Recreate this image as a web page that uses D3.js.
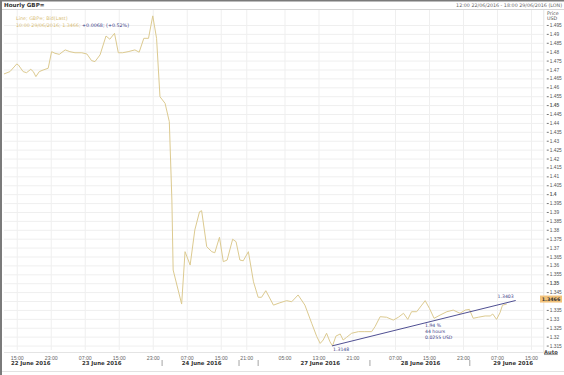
<!DOCTYPE html>
<html>
<head>
<meta charset="utf-8">
<script src="https://cdn.jsdelivr.net/npm/d3@7"></script>
<style>
body { margin: 0; background: #fff; }
svg { display: block; font-family: "DejaVu Sans", Verdana, sans-serif; }
.grid line { stroke: #efefef; stroke-width: 1; }
.grid path { display: none; }
.yaxis path { display: none; }
.yaxis line { stroke: #777; }
.yaxis text { fill: #555; font-size: 4.8px; }
.xaxis path, .xaxis line { display: none; }
.xaxis text { fill: #666; font-size: 5.2px; }
</style>
</head>
<body>
<div id="chart"></div>
<script>
// trading-hour index (0 = 22/06 12:00, weekend collapsed) and GBP= bid
const hours = [0, 1.4, 3.0, 3.4, 4.5, 5.3, 6.3, 6.9, 7.5, 8.3, 9.2, 10.4, 11.2, 12.0, 13.0, 14.4, 15.5, 16.7, 18.3, 19.5,
  20.6, 21.4, 22.6, 24.0, 24.9, 26.0, 26.9, 27.9, 29.2, 30.8, 31.8, 32.9, 34.0, 35.0, 35.9, 36.7, 37.9, 38.9, 39.5, 39.8,
  41.8, 42.6, 43.8, 44.9, 46.0, 46.5, 47.7, 48.9, 49.6, 50.7, 51.6, 52.5, 53.8, 54.6, 55.5, 56.3, 57.5, 58.7, 59.8, 60.6,
  61.6, 63.4, 64.9, 66.5, 67.7, 69.2, 70.8, 72.4, 73.6, 74.4, 75.1, 75.9, 76.7, 77.3, 78.1, 79.1, 79.8, 80.6, 81.8, 83.4,
  84.9, 86.5, 87.3, 88.5, 90.0, 91.6, 92.8, 94.0, 95.0, 95.9, 97.1, 98.3, 99.1, 100.1, 101.2, 102.6, 104.2, 105.7, 107.3, 108.5,
  109.5, 110.4, 111.6, 113.2, 114.4, 115.0, 115.9, 116.7, 117.3, 118.3];
const prices = [1.4675, 1.4688, 1.4731, 1.4725, 1.4688, 1.4682, 1.4701, 1.4688, 1.4660, 1.4688, 1.4697, 1.4707, 1.4800, 1.4791, 1.4785, 1.4810, 1.4800, 1.4794, 1.4794, 1.4787,
  1.4750, 1.4744, 1.4782, 1.4888, 1.4870, 1.4903, 1.4794, 1.4794, 1.4800, 1.4810, 1.4797, 1.4875, 1.4875, 1.5001, 1.4875, 1.4547, 1.4510, 1.4407, 1.3967, 1.3574,
  1.3383, 1.3677, 1.3602, 1.3799, 1.3901, 1.3907, 1.3705, 1.3677, 1.3671, 1.3758, 1.3621, 1.3630, 1.3747, 1.3733, 1.3630, 1.3626, 1.3677, 1.3508, 1.3421, 1.3421,
  1.3458, 1.3377, 1.3390, 1.3402, 1.3396, 1.3434, 1.3377, 1.3275, 1.3200, 1.3162, 1.3181, 1.3219, 1.3171, 1.3148, 1.3203, 1.3215, 1.3181, 1.3196, 1.3219, 1.3228,
  1.3228, 1.3228, 1.3256, 1.3312, 1.3309, 1.3293, 1.3309, 1.3331, 1.3297, 1.3340, 1.3340, 1.3377, 1.3402, 1.3359, 1.3303, 1.3321, 1.3340, 1.3349, 1.3331, 1.3349,
  1.3353, 1.3303, 1.3309, 1.3316, 1.3316, 1.3327, 1.3297, 1.3334, 1.3377, 1.3383];

const xTickHours = [3, 11, 19, 27, 35, 43, 51, 57, 66, 74, 82, 92, 100, 108, 116, 124];
const xTickLabels = ['15:00', '23:00', '07:00', '15:00', '23:00', '07:00', '15:00', '21:00', '05:00', '13:00', '21:00', '07:00', '15:00', '23:00', '07:00', '15:00'];
const dayHours = [6.3, 23, 46.5, 74.4, 98, 119.8];
const dayLabels = ['22 June 2016', '23 June 2016', '24 June 2016', '27 June 2016', '28 June 2016', '29 June 2016'];
const sepHours = [37.2, 55.3, 59.8, 86.1, 109.6];
const yTicks = d3.range(1.315, 1.4951, 0.005);
const boldTicks = [1.35, 1.4, 1.45];

const trendHours = [77.2, 120.4];
const trendPrices = [1.3148, 1.3403];
const lastPrice = 1.3466;
const hiddenTick = 1.34; // covered by the last price tag

const width = 564, height = 375;
const plot = { left: 4, right: 543.75, top: 10, bottom: 350 };

const svg = d3.select('#chart').append('svg')
    .attr('width', width)
    .attr('height', height);

const x = d3.scaleLinear().domain([0, 127]).range([plot.left, plot.right]);
const y = d3.scaleLinear().domain([1.3125, 1.5034]).range([plot.bottom, plot.top]);

// grid
svg.append('g')
    .attr('class', 'grid')
    .attr('transform', `translate(${plot.left},0)`)
    .call(d3.axisLeft(y).tickValues(yTicks).tickSize(-(plot.right - plot.left)).tickFormat(''));
svg.append('g')
    .attr('class', 'grid')
    .attr('transform', `translate(0,${plot.bottom})`)
    .call(d3.axisBottom(x).tickValues(xTickHours).tickSize(-(plot.bottom - plot.top)).tickFormat(''));

// frame
svg.append('rect').attr('x', 0).attr('y', 0).attr('width', width).attr('height', 1.5).attr('fill', '#7a7a7a');
svg.append('rect').attr('x', 0).attr('y', 0).attr('width', 2).attr('height', height).attr('fill', '#7a7a7a');
svg.append('line').attr('x1', 2).attr('x2', width).attr('y1', 9.5).attr('y2', 9.5).attr('stroke', '#d6d6d6');
svg.append('line').attr('x1', 2).attr('x2', width).attr('y1', 371.5).attr('y2', 371.5).attr('stroke', '#e2e2e2');
svg.append('line').attr('x1', plot.left).attr('x2', plot.right).attr('y1', plot.bottom + 2.5).attr('y2', plot.bottom + 2.5).attr('stroke', '#e4e4e4');
svg.append('line').attr('x1', plot.right).attr('x2', plot.right).attr('y1', plot.top).attr('y2', plot.bottom + 2.5).attr('stroke', '#e4e4e4');

// header
svg.append('text').attr('x', 4).attr('y', 7).attr('font-size', 5.6).attr('font-weight', 'bold').attr('fill', '#333').text('Hourly GBP=');
svg.append('text').attr('x', 562).attr('y', 7).attr('text-anchor', 'end').attr('font-size', 4.8).attr('fill', '#666')
    .text('12:00 22/06/2016 - 18:00 29/06/2016 (LON)');

// legend
svg.append('text').attr('x', 16).attr('y', 20).attr('font-size', 4.8).attr('fill', '#d8bd76').text('Line; GBP=; Bid(Last)');
const leg = svg.append('text').attr('x', 16).attr('y', 26.5).attr('font-size', 4.8);
leg.append('tspan').attr('fill', '#d8bd76').text('10:00 29/06/2016; 1.3466; ');
leg.append('tspan').attr('fill', '#3b3b86').text('+0.0068; (+0.52%)');

// y axis
const yAxis = svg.append('g')
    .attr('class', 'yaxis')
    .attr('transform', `translate(${plot.right + 3},0)`)
    .call(d3.axisRight(y).tickValues(yTicks).tickSize(2).tickPadding(1)
        .tickFormat(d => Math.abs(d - hiddenTick) < 1e-6 ? '' : d3.format('.3~f')(d)));
yAxis.selectAll('.tick text')
    .filter(d => boldTicks.some(b => Math.abs(b - d) < 1e-6))
    .attr('font-weight', 'bold').attr('fill', '#333');
svg.append('text').attr('x', 547).attr('y', 14.5).attr('font-size', 4.8).attr('fill', '#555').text('Price');
svg.append('text').attr('x', 547).attr('y', 20).attr('font-size', 4.8).attr('fill', '#555').text('USD');
svg.append('text').attr('x', 544).attr('y', 353.5).attr('font-size', 5.2).attr('font-weight', 'bold')
    .attr('fill', '#444').attr('text-decoration', 'underline').text('Auto');

// x axis
svg.append('g')
    .attr('class', 'xaxis')
    .attr('transform', `translate(0,${plot.bottom + 2})`)
    .call(d3.axisBottom(x).tickValues(xTickHours).tickSize(0).tickPadding(4)
        .tickFormat((d, i) => xTickLabels[i]));
svg.selectAll('.day')
    .data(dayLabels)
    .join('text')
    .attr('x', (d, i) => x(dayHours[i]))
    .attr('y', 365)
    .attr('text-anchor', 'middle')
    .attr('font-size', 5.4)
    .attr('font-weight', 'bold')
    .attr('fill', '#333')
    .text(d => d);
svg.selectAll('.sep')
    .data(sepHours)
    .join('line')
    .attr('x1', d => x(d)).attr('x2', d => x(d))
    .attr('y1', 360).attr('y2', 366)
    .attr('stroke', '#666').attr('stroke-width', 0.6);

// price line
const line = d3.line()
    .x((d, i) => x(hours[i]))
    .y(d => y(d));
svg.append('path')
    .datum(prices)
    .attr('fill', 'none')
    .attr('stroke', '#dcca90')
    .attr('stroke-width', 1)
    .attr('d', line);

// trend line annotation
svg.append('path')
    .datum(trendPrices)
    .attr('fill', 'none')
    .attr('stroke', '#3b3b86')
    .attr('stroke-width', 0.9)
    .attr('d', d3.line().x((d, i) => x(trendHours[i])).y(d => y(d)));
svg.append('text').attr('x', x(trendHours[0]) + 1).attr('y', y(trendPrices[0]) + 5)
    .attr('font-size', 4.6).attr('fill', '#3b3b86').text('1.3148');
svg.append('text').attr('x', x(trendHours[1]) - 2).attr('y', y(trendPrices[1]) - 2.5)
    .attr('text-anchor', 'end').attr('font-size', 4.6).attr('fill', '#3b3b86').text('1.3403');
const info = ['1.94 %', '44 hours', '0.0255 USD'];
svg.selectAll('.info')
    .data(info)
    .join('text')
    .attr('x', 425)
    .attr('y', (d, i) => 326.5 + i * 6)
    .attr('font-size', 4.6)
    .attr('fill', '#3b3b86')
    .text(d => d);

// last price tag
const tagY = y(prices[prices.length - 1]) - 5;
svg.append('rect').attr('x', 540).attr('y', tagY - 3.5).attr('width', 22).attr('height', 7).attr('fill', '#f2c27a');
svg.append('text').attr('x', 551).attr('y', tagY + 1.8).attr('text-anchor', 'middle')
    .attr('font-size', 4.8).attr('font-weight', 'bold').attr('fill', '#333').text(lastPrice.toFixed(4));
</script>
</body>
</html>
